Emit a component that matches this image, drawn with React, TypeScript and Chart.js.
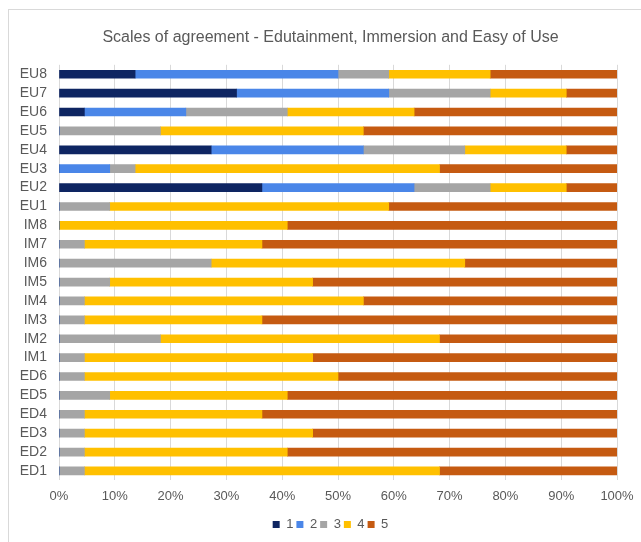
import React, { useEffect, useRef } from "react";
import { Chart, registerables } from "chart.js";

Chart.register(...registerables);

const categories = [
  "EU8", "EU7", "EU6", "EU5", "EU4", "EU3", "EU2", "EU1",
  "IM8", "IM7", "IM6", "IM5", "IM4", "IM3", "IM2", "IM1",
  "ED6", "ED5", "ED4", "ED3", "ED2", "ED1",
];

const seriesNames = ["1", "2", "3", "4", "5"];

const level1 = [13.64, 31.82, 4.55, 0, 27.27, 0, 36.36, 0, 0, 0, 0, 0, 0, 0, 0, 0, 0, 0, 0, 0, 0, 0];
const level2 = [36.36, 27.27, 18.18, 0, 27.27, 9.09, 27.27, 0, 0, 0, 0, 0, 0, 0, 0, 0, 0, 0, 0, 0, 0, 0];
const level3 = [9.09, 18.18, 18.18, 18.18, 18.18, 4.55, 13.64, 9.09, 0, 4.55, 27.27, 9.09, 4.55, 4.55, 18.18, 4.55, 4.55, 9.09, 4.55, 4.55, 4.55, 4.55];
const level4 = [18.18, 13.64, 22.73, 36.36, 18.18, 54.55, 13.64, 50.0, 40.91, 31.82, 45.45, 36.36, 50.0, 31.82, 50.0, 40.91, 45.45, 31.82, 31.82, 40.91, 36.36, 63.64];
const level5 = [22.73, 9.09, 36.36, 45.45, 9.09, 31.82, 9.09, 40.91, 59.09, 63.64, 27.27, 54.55, 45.45, 63.64, 31.82, 54.55, 50.0, 59.09, 63.64, 54.55, 59.09, 31.82];

const xTicks = [0, 10, 20, 30, 40, 50, 60, 70, 80, 90, 100];

const colors = ["#0e2562", "#4a86e8", "#a5a5a5", "#ffc000", "#c55a11"];

export default function App() {
  const ref = useRef<HTMLCanvasElement | null>(null);

  useEffect(() => {
    if (!ref.current) return;
    const values = [level1, level2, level3, level4, level5];
    const chart = new Chart(ref.current, {
      type: "bar",
      data: {
        labels: categories,
        datasets: values.map((v, i) => ({
          label: seriesNames[i],
          data: v,
          backgroundColor: colors[i],
          borderWidth: 0,
          barThickness: 8,
        })),
      },
      options: {
        indexAxis: "y",
        animation: false,
        responsive: false,
        maintainAspectRatio: false,
        layout: { padding: { left: 20, right: 0, top: 0, bottom: 1 } },
        scales: {
          x: {
            stacked: true,
            min: 0,
            max: 100,
            afterBuildTicks: (axis: any) => {
              axis.ticks = xTicks.map((v) => ({ value: v }));
            },
            afterFit: (axis: any) => {
              axis.paddingRight = 24;
              axis.height = axis.height + 3;
            },
            ticks: {
              callback: (v: any) => v + "%",
              color: "#595959",
              font: { family: "'Liberation Sans', Arial, sans-serif", size: 13 },
              padding: 8,
              maxRotation: 0,
            },
            grid: { color: "#d9d9d9", drawTicks: false },
            border: { display: false },
          },
          y: {
            stacked: true,
            afterFit: (axis: any) => {
              axis.width = 39;
            },
            ticks: {
              autoSkip: false,
              color: "#595959",
              font: { family: "'Liberation Sans', Arial, sans-serif", size: 14 },
              padding: 12,
            },
            grid: { display: false, drawTicks: false },
            border: { display: false },
          },
        },
        plugins: {
          title: {
            display: true,
            text: "Scales of agreement - Edutainment, Immersion and Easy of Use",
            color: "#595959",
            font: { family: "'Liberation Sans', Arial, sans-serif", size: 16, weight: "normal" },
            padding: { top: 28.4, bottom: 17.2 },
          },
          legend: {
            display: true,
            position: "bottom",
            labels: {
              color: "#595959",
              font: { family: "'Liberation Sans', Arial, sans-serif", size: 13 },
              boxWidth: 7,
              boxHeight: 7,
              padding: 3,
            },
          },
          tooltip: { enabled: false },
        },
      },
    });
    return () => chart.destroy();
  }, []);

  return (
    <div style={{ position: "fixed", left: 0, top: 0, width: 641, height: 542, background: "#fff" }}>
      <div
        style={{
          position: "absolute",
          left: 8,
          top: 9,
          width: 700,
          height: 600,
          border: "1px solid #d9d9d9",
          boxSizing: "border-box",
        }}
      />
      <canvas ref={ref} width={641} height={542} style={{ position: "absolute", left: 0, top: 0 }} />
    </div>
  );
}
